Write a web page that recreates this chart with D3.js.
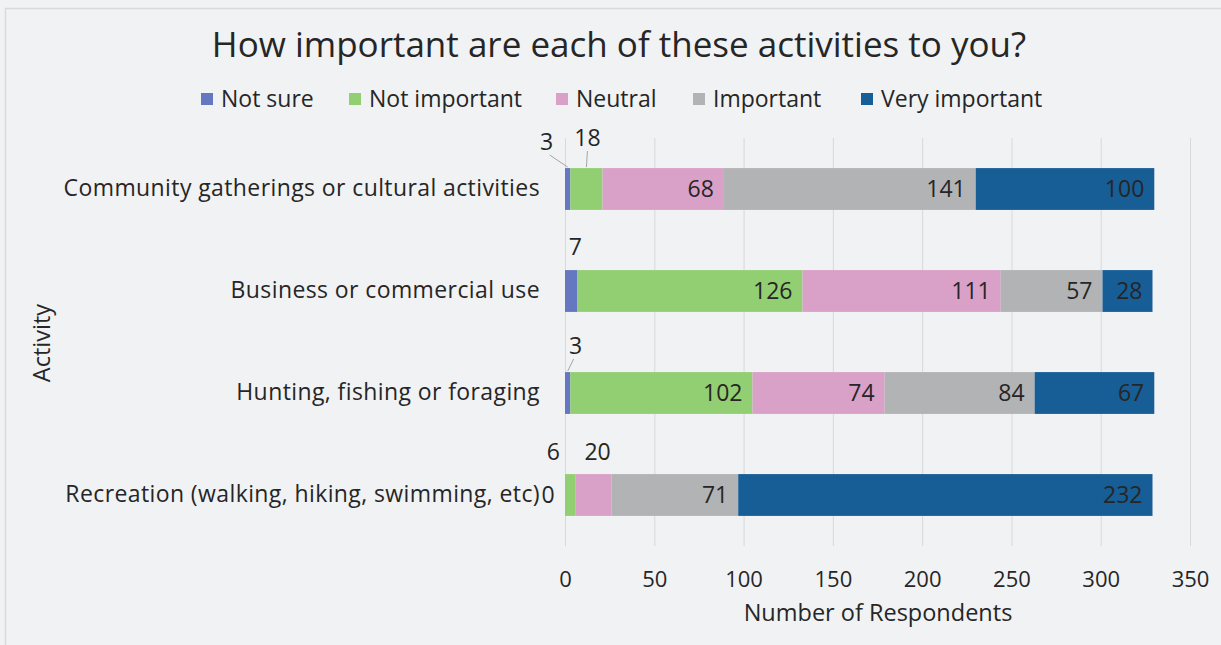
<!DOCTYPE html>
<html>
<head>
<meta charset="utf-8">
<script src="https://cdn.jsdelivr.net/npm/d3@7"></script>
<style>
  html, body { margin: 0; padding: 0; background: #f1f2f4; }
  svg { display: block; }
  text { font-family: "Open Sans", "Noto Sans", sans-serif; fill: #262626; }
</style>
</head>
<body>
<svg id="chart" width="1221" height="645"></svg>
<script>
// Survey responses: number of respondents per activity and importance level
const activities = [
  "Community gatherings or cultural activities",
  "Business or commercial use",
  "Hunting, fishing or foraging",
  "Recreation (walking, hiking, swimming, etc)"
];
const levels = ["Not sure", "Not important", "Neutral", "Important", "Very important"];
const notSure       = [3, 7, 3, 0];
const notImportant  = [18, 126, 102, 6];
const neutral       = [68, 111, 74, 20];
const important     = [141, 57, 84, 71];
const veryImportant = [100, 28, 67, 232];
const xTicks = [0, 50, 100, 150, 200, 250, 300, 350];

const colors = ["#6577c0", "#92cf72", "#d9a0c8", "#b2b3b5", "#175d96"];

// Small segments get their value label placed outside the bar (offset from segment centre)
const callouts = {
  "0-0": { dx: -21, dy: -47, leader: true },
  "0-1": { dx: 1,   dy: -51, leader: true },
  "1-0": { dx: 4,   dy: -44, leader: false },
  "2-0": { dx: 8,   dy: -47, leader: true },
  "3-1": { dx: -17, dy: -43, leader: false },
  "3-2": { dx: 4,   dy: -43, leader: false },
  "3-0": { dx: -17, dy: 0,   leader: false }
};

const rows = activities.map((a, i) => ({
  activity: a,
  "Not sure": notSure[i],
  "Not important": notImportant[i],
  "Neutral": neutral[i],
  "Important": important[i],
  "Very important": veryImportant[i]
}));

const svg = d3.select("#chart");
const W = 1221, H = 645;
const FS = 23;

// chart frame
svg.append("rect")
  .attr("x", 5.5).attr("y", 8.5).attr("width", W + 20).attr("height", H + 20)
  .attr("fill", "#f1f2f4").attr("stroke", "#d9d9d9").attr("stroke-width", 1.5);

const x = d3.scaleLinear().domain([0, 350]).range([565, 1190]);
const y = d3.scaleBand().domain(activities).range([138, 546])
  .paddingInner(0.59).paddingOuter(0.295);

// vertical gridlines
svg.append("g").selectAll("line").data(xTicks).join("line")
  .attr("x1", d => x(d) + 0.5).attr("x2", d => x(d) + 0.5)
  .attr("y1", 138).attr("y2", 546)
  .attr("stroke", "#d9d9d9").attr("stroke-width", 1);

// x axis tick labels
const xAxis = d3.axisBottom(x).tickValues(xTicks).tickSize(0).tickPadding(0);
const gx = svg.append("g").attr("transform", "translate(0,579)").call(xAxis);
gx.select(".domain").remove();
gx.selectAll("text").attr("font-size", 22).attr("fill", "#262626")
  .attr("font-family", '"Open Sans", sans-serif').attr("dy", "0.35em");

// y axis category labels
const yAxis = d3.axisLeft(y).tickSize(0).tickPadding(25);
const gy = svg.append("g").attr("transform", "translate(565,0)").call(yAxis);
gy.select(".domain").remove();
gy.selectAll("text").attr("font-size", FS).attr("fill", "#262626")
  .attr("letter-spacing", "0.4px")
  .attr("font-family", '"Open Sans", sans-serif');

// stacked bars
const stack = d3.stack().keys(levels)(rows);
const layers = svg.append("g").selectAll("g").data(stack).join("g")
  .attr("fill", (d, i) => colors[i]);
layers.selectAll("rect").data(d => d).join("rect")
  .attr("x", d => x(d[0]))
  .attr("width", d => x(d[1]) - x(d[0]))
  .attr("y", d => y(d.data.activity))
  .attr("height", y.bandwidth());

// value labels
const labels = svg.append("g");
stack.forEach((layer, si) => {
  layer.forEach((d, ri) => {
    const v = d[1] - d[0];
    const key = ri + "-" + si;
    const cy = y(d.data.activity) + y.bandwidth() / 2;
    const c = callouts[key];
    if (c) {
      const cx = (x(d[0]) + x(d[1])) / 2;
      const lx = cx + c.dx, ly = cy + c.dy;
      if (c.leader) {
        labels.append("line")
          .attr("x1", lx + (c.dx < -5 ? 3 : c.dx > 5 ? -2 : 0))
          .attr("y1", ly + 13)
          .attr("x2", cx)
          .attr("y2", y(d.data.activity) - 1)
          .attr("stroke", "#a6a6a6").attr("stroke-width", 1);
      }
      labels.append("text")
        .attr("x", lx).attr("y", ly)
        .attr("text-anchor", "middle").attr("dy", "0.35em")
        .attr("font-size", FS)
        .text(v);
    } else {
      labels.append("text")
        .attr("x", x(d[1]) - 10).attr("y", cy)
        .attr("text-anchor", "end").attr("dy", "0.35em")
        .attr("font-size", FS)
        .text(v);
    }
  });
});

// title
svg.append("text").attr("x", 619).attr("y", 45)
  .attr("text-anchor", "middle").attr("dy", "0.35em")
  .attr("font-size", 35).text("How important are each of these activities to you?");

// legend
const legendX = [201, 349, 556, 693, 861];
const lg = svg.append("g").selectAll("g").data(levels).join("g")
  .attr("transform", (d, i) => `translate(${legendX[i]},99)`);
lg.append("rect").attr("x", 0).attr("y", -6).attr("width", 12).attr("height", 12)
  .attr("fill", (d, i) => colors[i]);
lg.append("text").attr("x", 20).attr("dy", "0.35em").attr("font-size", FS).text(d => d);

// axis titles
svg.append("text").attr("x", 878).attr("y", 613)
  .attr("text-anchor", "middle").attr("dy", "0.35em")
  .attr("font-size", 23.5).text("Number of Respondents");
svg.append("text").attr("transform", "translate(42,343) rotate(-90)")
  .attr("text-anchor", "middle").attr("dy", "0.35em")
  .attr("font-size", 23.5).text("Activity");
</script>
</body>
</html>
